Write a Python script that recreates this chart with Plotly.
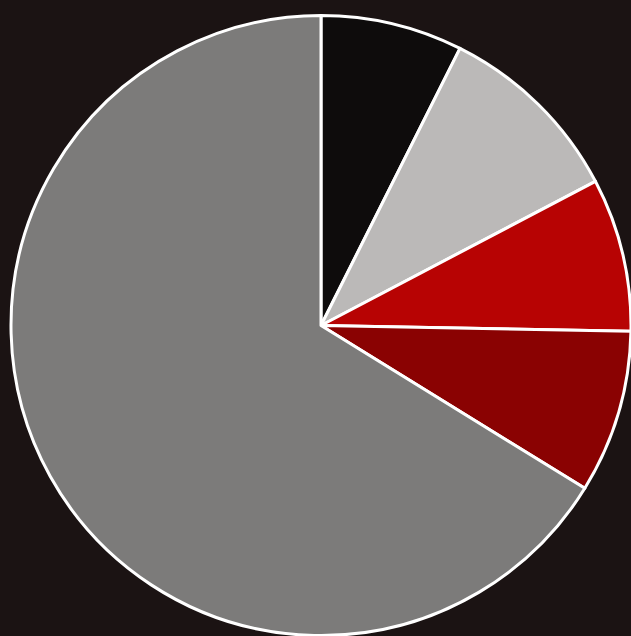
import plotly.graph_objects as go

# Slice shares, clockwise from 12 o'clock
labels = ["Black", "Light gray", "Red", "Dark red", "Gray"]
values = [7.4, 9.9, 8.0, 8.5, 66.2]
colors = ["#0e0c0c", "#bbb9b8", "#b70303", "#8a0202", "#7c7b7a"]

fig = go.Figure(
    go.Pie(
        labels=labels,
        values=values,
        sort=False,
        direction="clockwise",
        rotation=0,
        marker=dict(colors=colors, line=dict(color="#ffffff", width=3)),
        textinfo="none",
        hoverinfo="label+percent",
        showlegend=False,
    )
)

fig.update_layout(
    width=631,
    height=636,
    margin=dict(l=11, r=0, t=15, b=0),
    paper_bgcolor="#1b1313",
    plot_bgcolor="#1b1313",
)

fig.write_html("out.html")
